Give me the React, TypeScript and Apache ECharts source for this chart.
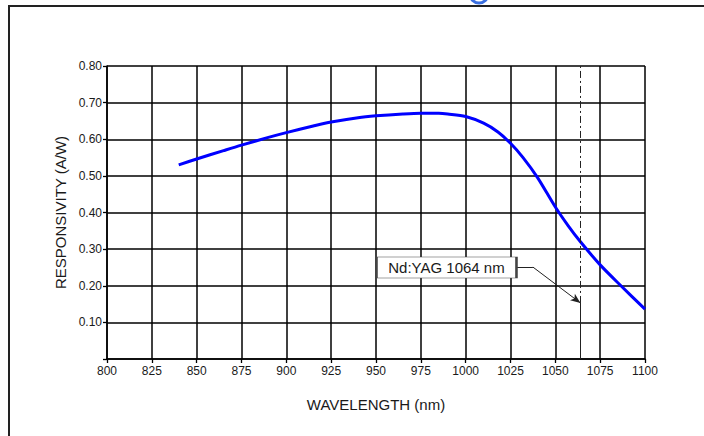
import React, { useEffect, useRef } from "react";
import * as echarts from "echarts";

const wavelengths = [840, 850, 865, 875, 890, 900, 915, 925, 940, 950, 965, 975, 985, 990, 1000, 1010, 1018, 1025, 1032, 1040, 1050, 1057, 1064, 1075, 1087, 1100];
const responsivity = [0.530, 0.546, 0.569, 0.584, 0.605, 0.618, 0.636, 0.647, 0.659, 0.664, 0.669, 0.671, 0.671, 0.669, 0.662, 0.644, 0.620, 0.589, 0.550, 0.496, 0.415, 0.365, 0.320, 0.257, 0.198, 0.136];

const laserLine = 1064;
const laserLabel = "Nd:YAG 1064 nm";
const arrowTip = [1064, 0.153];
const leaderStart = [1028, 0.251];
const leaderBend = [1037.5, 0.251];
const labelAt = [989.3, 0.25];

const xTitle = "WAVELENGTH (nm)";
const yTitle = "RESPONSIVITY (A/W)";

const FONT = "'Liberation Sans', Arial, sans-serif";
const TXT = "#1a1a1a";

export default function App() {
  const ref = useRef<HTMLDivElement>(null);
  useEffect(() => {
    if (!ref.current) return;
    const chart = echarts.init(ref.current, undefined, { renderer: "svg" });
    const points = wavelengths.map((w, i) => [w, responsivity[i]]);
    chart.setOption({
      animation: false,
      backgroundColor: "#fff",
      textStyle: { fontFamily: FONT },
      grid: { left: 107, right: 59, top: 66, bottom: 77 },
      xAxis: {
        type: "value",
        min: 800,
        max: 1100,
        interval: 25,
        name: xTitle,
        nameLocation: "middle",
        nameGap: 38,
        nameTextStyle: { fontSize: 15, color: TXT, fontFamily: FONT },
        axisLine: { lineStyle: { color: "#000", width: 1.5 } },
        axisTick: { show: true, length: 4, lineStyle: { color: "#000", width: 1.3 } },
        axisLabel: {
          fontSize: 12,
          color: TXT,
          margin: 6,
          fontFamily: FONT,
          formatter: (v: number) => String(v),
        },
        splitLine: { show: true, lineStyle: { color: "#000", width: 1.5 } },
      },
      yAxis: {
        type: "value",
        min: 0,
        max: 0.8,
        interval: 0.1,
        name: yTitle,
        nameLocation: "middle",
        nameGap: 39,
        nameTextStyle: { fontSize: 15, color: TXT, fontFamily: FONT },
        axisLine: { show: true, lineStyle: { color: "#000", width: 1.5 } },
        axisTick: { show: true, length: 4, lineStyle: { color: "#000", width: 1.3 } },
        axisLabel: {
          fontSize: 12,
          color: TXT,
          margin: 5,
          fontFamily: FONT,
          formatter: (v: number) => (v === 0 ? "" : v.toFixed(2)),
        },
        splitLine: { show: true, lineStyle: { color: "#000", width: 1.5 } },
      },
      graphic: [
        {
          type: "rect",
          shape: { x: 9, y: 6, width: 900, height: 900 },
          style: { fill: "none", stroke: "#222", lineWidth: 2 },
          silent: true,
        },
        {
          type: "arc",
          shape: { cx: 479, cy: -6, r: 9, startAngle: 0, endAngle: Math.PI },
          style: { fill: "none", stroke: "#3a6fe0", lineWidth: 3 },
          silent: true,
        },
      ],
      series: [
        {
          type: "line",
          data: points,
          smooth: 0.3,
          symbol: "none",
          lineStyle: { color: "#0000ff", width: 3 },
          z: 3,
          markLine: {
            silent: true,
            symbol: "none",
            label: { show: false },
            data: [
              [
                { coord: [laserLine, arrowTip[1]], lineStyle: { color: "#222", width: 1, type: [7, 3, 2, 3] } },
                { coord: [laserLine, 0.8] },
              ],
              [
                { coord: [laserLine, 0], lineStyle: { color: "#222", width: 1, type: "solid" } },
                { coord: [laserLine, arrowTip[1]] },
              ],
              [
                { coord: leaderStart, lineStyle: { color: "#222", width: 1, type: "solid" } },
                { coord: leaderBend },
              ],
              [
                { coord: leaderBend, symbol: "none", lineStyle: { color: "#222", width: 1, type: "solid" } },
                { coord: arrowTip, symbol: "arrow", symbolSize: [6, 10] },
              ],
            ],
          },
          markPoint: {
            silent: true,
            data: [
              {
                coord: labelAt,
                symbol: "rect",
                symbolSize: [140, 21],
                itemStyle: { color: "#fff", borderColor: "#444", borderWidth: 1 },
                label: {
                  show: true,
                  position: "inside",
                  formatter: laserLabel,
                  color: TXT,
                  fontSize: 15,
                  fontFamily: FONT,
                },
              },
            ],
          },
        },
      ],
    });
    return () => chart.dispose();
  }, []);
  return (
    <div
      ref={ref}
      style={{ position: "absolute", left: 0, top: 0, width: 704, height: 436 }}
    />
  );
}
